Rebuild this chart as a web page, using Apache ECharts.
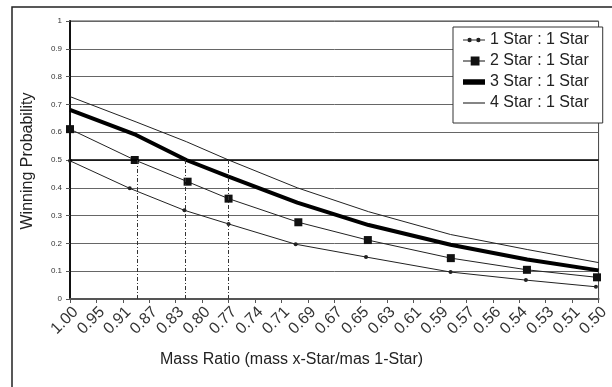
<!DOCTYPE html>
<html>
<head>
<meta charset="utf-8">
<script src="https://cdn.jsdelivr.net/npm/echarts@6/dist/echarts.min.js"></script>
<style>
  html, body { margin: 0; padding: 0; background: #fff; }
  #chart { width: 612px; height: 387px; }
</style>
</head>
<body>
<div id="chart"></div>
<script>
// x is measured in tick steps (0 = 1.00, 20 = 0.50)
const massLabels = ['1.00', '0.95', '0.91', '0.87', '0.83', '0.80', '0.77', '0.74', '0.71', '0.69', '0.67',
    '0.65', '0.63', '0.61', '0.59', '0.57', '0.56', '0.54', '0.53', '0.51', '0.50'];
const probLabels = ['0', '0.1', '0.2', '0.3', '0.4', '0.5', '0.6', '0.7', '0.8', '0.9', '1'];

const star1X = [0, 2.26, 4.33, 6, 8.54, 11.2, 14.4, 17.25, 19.9];
const star1Y = [0.497, 0.398, 0.319, 0.27, 0.197, 0.151, 0.097, 0.068, 0.044];
const star2X = [0, 2.45, 4.45, 6, 8.64, 11.27, 14.41, 17.29, 19.94];
const star2Y = [0.611, 0.50, 0.422, 0.361, 0.276, 0.212, 0.147, 0.105, 0.078];
const star3X = [0, 2.5, 4.4, 6, 8.6, 11.3, 14.4, 17.3, 20];
const star3Y = [0.68, 0.59, 0.50, 0.44, 0.347, 0.266, 0.195, 0.142, 0.103];
const star4X = [0, 2.5, 4.4, 6, 8.6, 11.3, 14.4, 17.3, 20];
const star4Y = [0.728, 0.637, 0.566, 0.50, 0.40, 0.314, 0.232, 0.178, 0.131];

// where each curve crosses 0.5
const crossX = [2.54, 4.37, 6];

const seriesNames = ['1 Star : 1 Star', '2 Star : 1 Star', '3 Star : 1 Star', '4 Star : 1 Star'];

// legend glyphs: dotted line, line with square, thick bar, thin line
const legendIcons = [
    'path://M0,2.5H4V3.5H0Z M8,2.5H12V3.5H8Z M16,2.5H20V3.5H16Z M4,3a2,2 0 1,0 4,0a2,2 0 1,0 -4,0Z M12,3a2,2 0 1,0 4,0a2,2 0 1,0 -4,0Z',
    'path://M0,3.5H7V4.5H0Z M15,3.5H20V4.5H15Z M7,0H15V8H7Z',
    'path://M0,0H20V5H0Z',
    'path://M0,0H20V1H0Z'
];

function pairs(xs, ys) {
    return xs.map((x, i) => [x, ys[i]]);
}

let chart = echarts.init(document.getElementById('chart'), null, { renderer: 'canvas' });

const font = 'Liberation Sans, Arial, sans-serif';

const option = {
    animation: false,
    backgroundColor: '#fff',
    textStyle: { fontFamily: font },
    grid: {
        left: 70, right: 11, top: 21, bottom: 88,
        show: true, borderColor: '#444', borderWidth: 1
    },
    legend: {
        orient: 'vertical',
        left: 453, top: 27,
        padding: [5, 14, 12, 10],
        itemWidth: 22, itemHeight: 14, itemGap: 5,
        backgroundColor: '#fff',
        borderColor: '#333', borderWidth: 1, borderRadius: 0,
        textStyle: { fontFamily: font, fontSize: 16, color: '#222', lineHeight: 16 },
        data: seriesNames.map((n, i) => ({ name: n, icon: legendIcons[i] }))
    },
    xAxis: {
        type: 'value', min: 0, max: 20, interval: 1,
        axisLine: { show: true, lineStyle: { color: '#555', width: 2 } },
        axisTick: { show: true, length: 4, lineStyle: { color: '#555' } },
        splitLine: { show: false },
        axisLabel: {
            rotate: 45, margin: 5, fontSize: 16, color: '#333', fontFamily: font,
            verticalAlign: 'top',
            formatter: v => massLabels[Math.round(v)]
        }
    },
    yAxis: {
        type: 'value', min: 0, max: 1, interval: 0.1,
        axisLine: { show: true, lineStyle: { color: '#111', width: 2 } },
        axisTick: { show: true, length: 4, lineStyle: { color: '#555' } },
        splitLine: { show: true, lineStyle: { color: '#666', width: 1 } },
        axisLabel: {
            fontSize: 8, color: '#333', margin: 8, fontFamily: font,
            formatter: v => probLabels[Math.round(v * 10)]
        }
    },
    series: [
        {
            name: seriesNames[0], type: 'line',
            data: pairs(star1X, star1Y),
            symbol: 'circle', symbolSize: 4,
            lineStyle: { color: '#222', width: 1 },
            itemStyle: { color: '#222' },
            markLine: {
                silent: true, symbol: 'none', label: { show: false },
                data: [
                    { yAxis: 0.5, lineStyle: { color: '#000', width: 1.5, type: 'solid' } }
                ].concat(crossX.map(x => [
                    { coord: [x, 0], lineStyle: { color: '#333', width: 1, type: [4, 2, 1, 2] } },
                    { coord: [x, 0.5] }
                ]))
            },
            z: 3
        },
        {
            name: seriesNames[1], type: 'line',
            data: pairs(star2X, star2Y),
            symbol: 'rect', symbolSize: 8,
            lineStyle: { color: '#222', width: 1 },
            itemStyle: { color: '#111' },
            z: 4
        },
        {
            name: seriesNames[2], type: 'line',
            data: pairs(star3X, star3Y),
            symbol: 'none',
            lineStyle: { color: '#000', width: 4 },
            itemStyle: { color: '#000' },
            z: 2
        },
        {
            name: seriesNames[3], type: 'line',
            data: pairs(star4X, star4Y),
            symbol: 'none',
            lineStyle: { color: '#222', width: 1 },
            itemStyle: { color: '#222' },
            z: 2
        }
    ],
    graphic: [
        {
            type: 'rect', silent: true,
            shape: { x: 12, y: 7, width: 700, height: 500 },
            style: { fill: 'none', stroke: '#222', lineWidth: 1.5 }
        },
        {
            type: 'text', left: 160, top: 352,
            style: { text: 'Mass Ratio (mass x-Star/mas 1-Star)', font: '16px ' + font, fill: '#222' }
        },
        {
            type: 'text', x: 28, y: 161, rotation: Math.PI / 2,
            style: {
                text: 'Winning Probability', font: '16px ' + font, fill: '#222',
                align: 'center', verticalAlign: 'middle'
            }
        }
    ]
};

chart.setOption(option);
</script>
</body>
</html>
